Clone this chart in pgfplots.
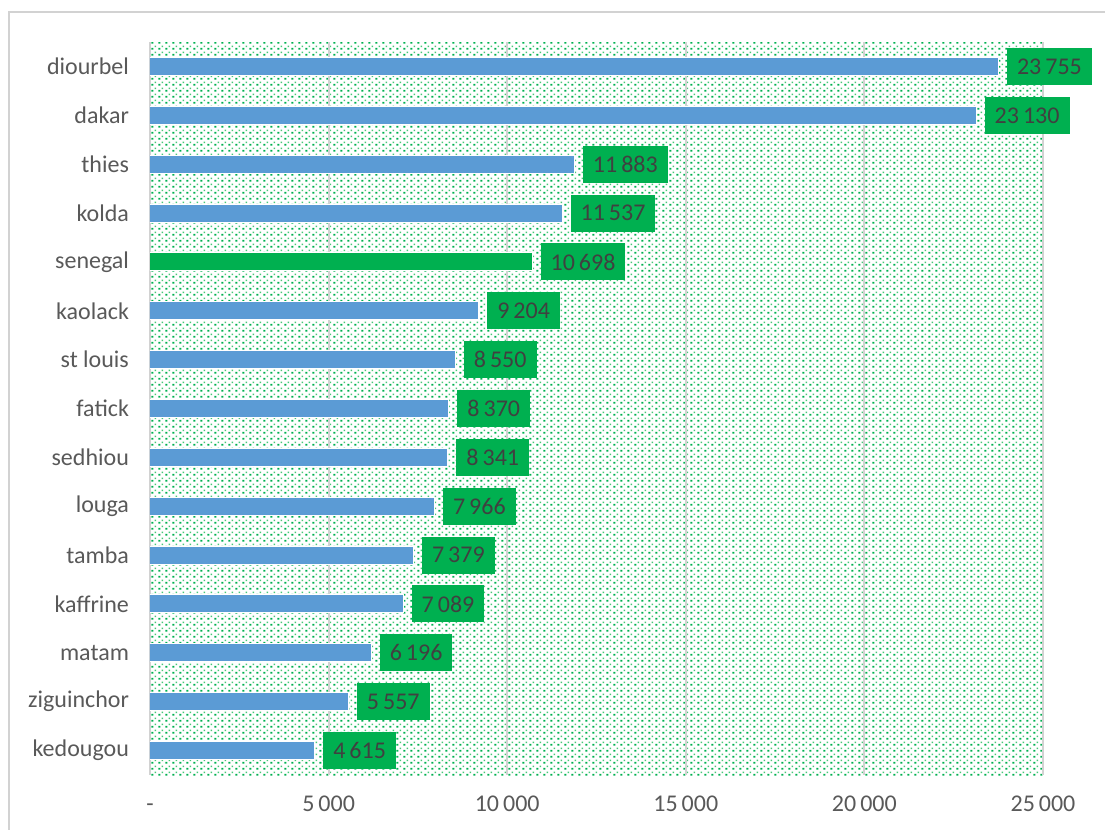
\documentclass[border=0pt]{standalone}
\usepackage{pgfplots}
\pgfplotsset{compat=1.18}
\usepackage{pgfplotstable}
\usepackage{fontspec}
\setmainfont{Carlito}
\usetikzlibrary{patterns}
\definecolor{barblue}{RGB}{91,155,213}
\definecolor{xlgreen}{RGB}{0,176,80}
\definecolor{lightdot}{RGB}{70,200,120}
\definecolor{lblgray}{RGB}{89,89,89}
\definecolor{txtdark}{RGB}{64,64,64}
\definecolor{gridgray}{RGB}{210,210,210}

\pgfdeclarepatterninherentlycolored{exceldots}{\pgfpointorigin}{\pgfqpoint{3.6pt}{3pt}}{\pgfqpoint{3.6pt}{3pt}}{%
  \pgfsetfillcolor{xlgreen}%
  \pgfpathrectangle{\pgfqpoint{0.2pt}{0.2pt}}{\pgfqpoint{1.1pt}{1.1pt}}%
  \pgfusepath{fill}%
  \pgfsetfillcolor{lightdot}%
  \pgfpathrectangle{\pgfqpoint{2pt}{1.7pt}}{\pgfqpoint{0.9pt}{0.9pt}}%
  \pgfusepath{fill}%
}

\pgfplotstableread{
y x
0 23755
1 23130
2 11883
3 11537
5 9204
6 8550
7 8370
8 8341
9 7966
10 7379
11 7089
12 6196
13 5557
14 4615
}\bluedata
\pgfplotstableread{
y x
4 10698
}\greendata

\begin{document}
\begin{tikzpicture}
\useasboundingbox (0pt,0pt) rectangle (552.5pt,415pt);
\draw[gridgray, line width=1pt] (4.5pt,-20pt) rectangle (580pt,409pt);
\begin{axis}[
  at={(75pt,27.5pt)}, anchor=south west,
  scale only axis, width=446.5pt, height=366.5pt,
  xmin=0, xmax=25000, ymin=-0.5, ymax=14.5, y dir=reverse,
  xtick={0,5000,10000,15000,20000,25000},
  xticklabels={-\hspace{10pt},5\,000,10\,000,15\,000,20\,000,25\,000},
  ytick={0,...,14},
  yticklabels={diourbel,dakar,thies,kolda,senegal,kaolack,st louis,fatick,sedhiou,louga,tamba,kaffrine,matam,ziguinchor,kedougou},
  xmajorgrids, grid style={gridgray, line width=1pt},
  axis line style={draw=none},
  major tick length=0pt,
  tick label style={font=\fontsize{12}{14}\selectfont, text=lblgray},
  xticklabel style={yshift=-6.5pt, text height=8pt, text depth=2pt},
  yticklabel style={xshift=-7pt},
  axis background/.style={pattern=exceldots},
  xbar, bar width=9pt,
  point meta=x,
  nodes near coords={\pgfmathprintnumber[1000 sep={\,}, assume math mode=true]{\pgfplotspointmeta}},
  nodes near coords style={anchor=west, fill=xlgreen, text=txtdark,
     font=\fontsize{12}{14}\selectfont, inner xsep=5pt, minimum height=18.5pt, xshift=4pt},
]
\addplot[fill=barblue, draw=white, line width=0.5pt, bar shift=0pt] table[x=x,y=y] {\bluedata};
\addplot[fill=xlgreen, draw=white, line width=0.5pt, bar shift=0pt] table[x=x,y=y] {\greendata};
\end{axis}
\end{tikzpicture}
\end{document}
